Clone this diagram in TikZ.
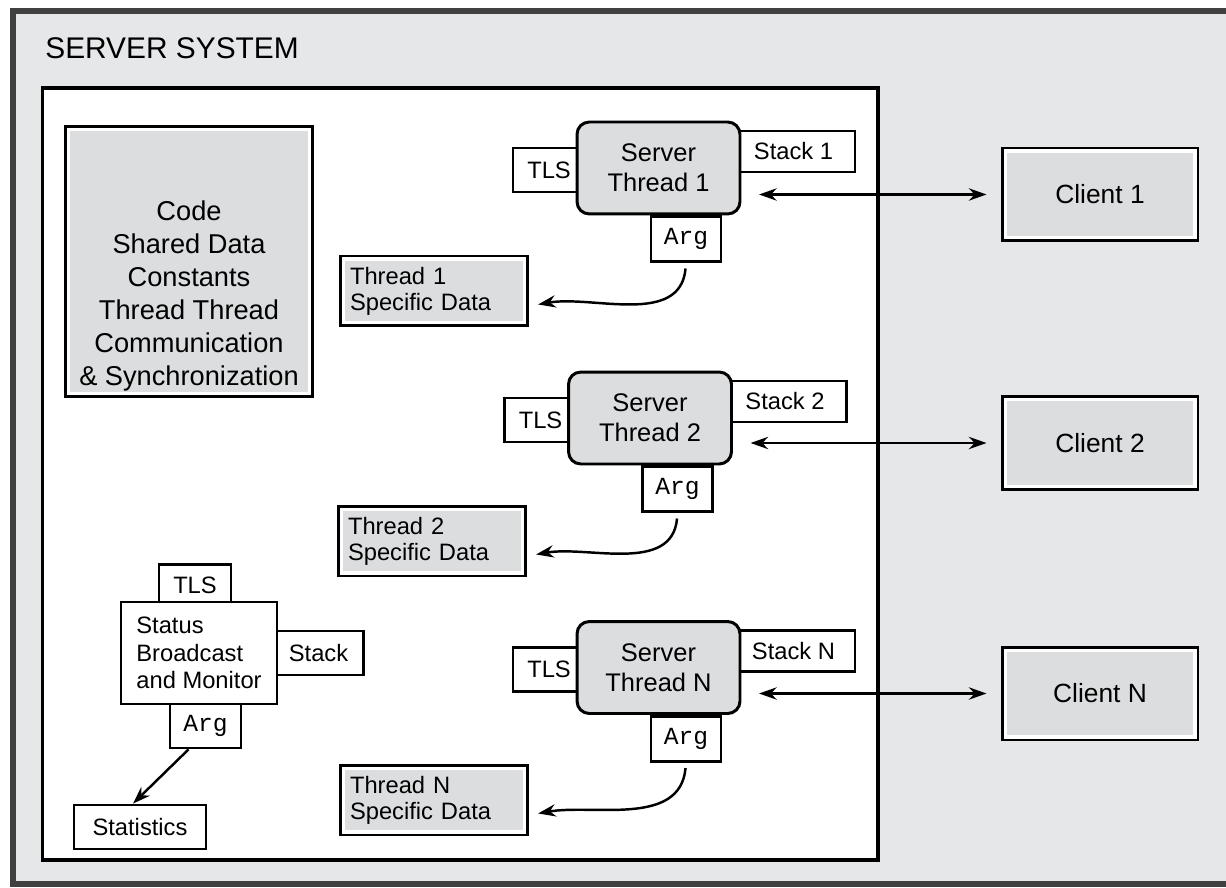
\documentclass[tikz,border=0pt]{standalone}
\usepackage{fontspec}
\setmainfont{Liberation Sans}
\setmonofont{Liberation Mono}
\usetikzlibrary{arrows.meta,positioning}

\definecolor{sysgray}{RGB}{230,231,232}
\definecolor{boxgray}{RGB}{220,221,223}

\begin{document}
\begin{tikzpicture}
 [x=0.02cm, y=-0.02cm,
   every node/.style={inner sep=0pt, font=\fontsize{13.5}{15}\selectfont},
   tag/.style={draw, line width=1.6pt, fill=white},
   shaded/.style={draw, line width=1.7pt, fill=white,
     path picture={\fill[boxgray]
       ([shift={(2.8pt,-2.8pt)}]path picture bounding box.north west) rectangle
       ([shift={(-2.8pt,2.8pt)}]path picture bounding box.south east);}},
   server/.style={draw, line width=1.7pt, fill=boxgray, rounded corners=7pt,
     minimum width=3.26cm, minimum height=1.84cm, align=center,
     font=\fontsize{14.5}{17}\selectfont},
   argbox/.style={tag, minimum width=1.4cm, minimum height=0.9cm,
     font=\ttfamily\fontsize{14}{16}\selectfont},
   link/.style={line width=1.4pt, -{Stealth[length=10pt,width=7pt]}},
   biglink/.style={line width=1.4pt,
     {Stealth[length=10pt,width=7pt]}-{Stealth[length=10pt,width=7pt]},
     shorten <=10pt, shorten >=8pt}]

  \useasboundingbox (0,0) rectangle (1226,888);

  % system frame and the process inside it
  \draw[line width=3.2pt, draw=black!75, fill=sysgray] (13,11) rectangle (1240,884);
  \node[anchor=west, font=\fontsize{17}{20}\selectfont] (title) at (45,48) {SERVER SYSTEM};
  \node[draw, line width=1.8pt, fill=white, minimum width=16.72cm, minimum height=15.44cm]
    (process) at (460,474) {};

  % shared part of the process
  \node[shaded, minimum width=4.96cm, minimum height=5.42cm] (code) at (189,261.5) {};
  \node[align=center, font=\fontsize{15.5}{18.8}\selectfont] (codetext) at (189,296)
    {Code\\Shared Data\\Constants\\Thread Thread\\Communication\\\& Synchronization};

  % one row per server thread and its client
  \foreach \row/\px/\py/\qx/\qy/\cy in {1/658.5/168/434/291/194.5,
                                        2/650/418/432/541/443,
                                        N/658.5/667.5/434/800/693.5} {
    \node[tag, minimum width=1.44cm, minimum height=0.88cm] (tls\row) at (\px-109.5,\py+2) {TLS};
    \node[tag, minimum width=2.46cm, minimum height=0.82cm] (stack\row) at (\px+135,\py-16.5) {Stack \row};
    \node[server] (thread\row) at (\px,\py) {Server\\Thread \row};
    \node[argbox, below=0pt of thread\row, xshift=0.55cm] (arg\row) {Arg};
    \node[shaded, align=left, text width=3.36cm, inner xsep=0.2cm, minimum height=1.4cm,
      font=\fontsize{13.5}{14.8}\selectfont] (data\row) at (\qx,\qy) {Thread \row\\Specific Data};
    \node[shaded, minimum width=3.92cm, minimum height=1.86cm,
      font=\fontsize{15}{18}\selectfont] (client\row) at (1100,\cy) {Client \row};
    \draw[link, shorten <=3pt, shorten >=5pt]
      (arg\row.south) to[out=-95, in=10] ([yshift=-0.3cm]data\row.east);
    \draw[biglink] (thread\row.east |- client\row.west) -- (client\row.west);
  }

  % status thread
  \node[tag, minimum width=1.44cm, minimum height=0.82cm] (tlsS) at (195,585) {TLS};
  \node[tag, minimum width=1.8cm, minimum height=0.88cm] (stackS) at (318.5,653) {Stack};
  \node[tag, align=left, minimum width=3.12cm, minimum height=2.04cm,
    font=\fontsize{13.5}{15.6}\selectfont] (status) at (199,653) {Status\\Broadcast\\and Monitor};
  \node[argbox, minimum width=1.42cm, minimum height=0.88cm] (argS) at (205.5,726) {Arg};
  \node[tag, minimum width=2.64cm, minimum height=0.88cm] (stats) at (140,827) {Statistics};
  \draw[link] ([xshift=-0.34cm]argS.south) -- ([xshift=-0.14cm]stats.north);
\end{tikzpicture}
\end{document}
